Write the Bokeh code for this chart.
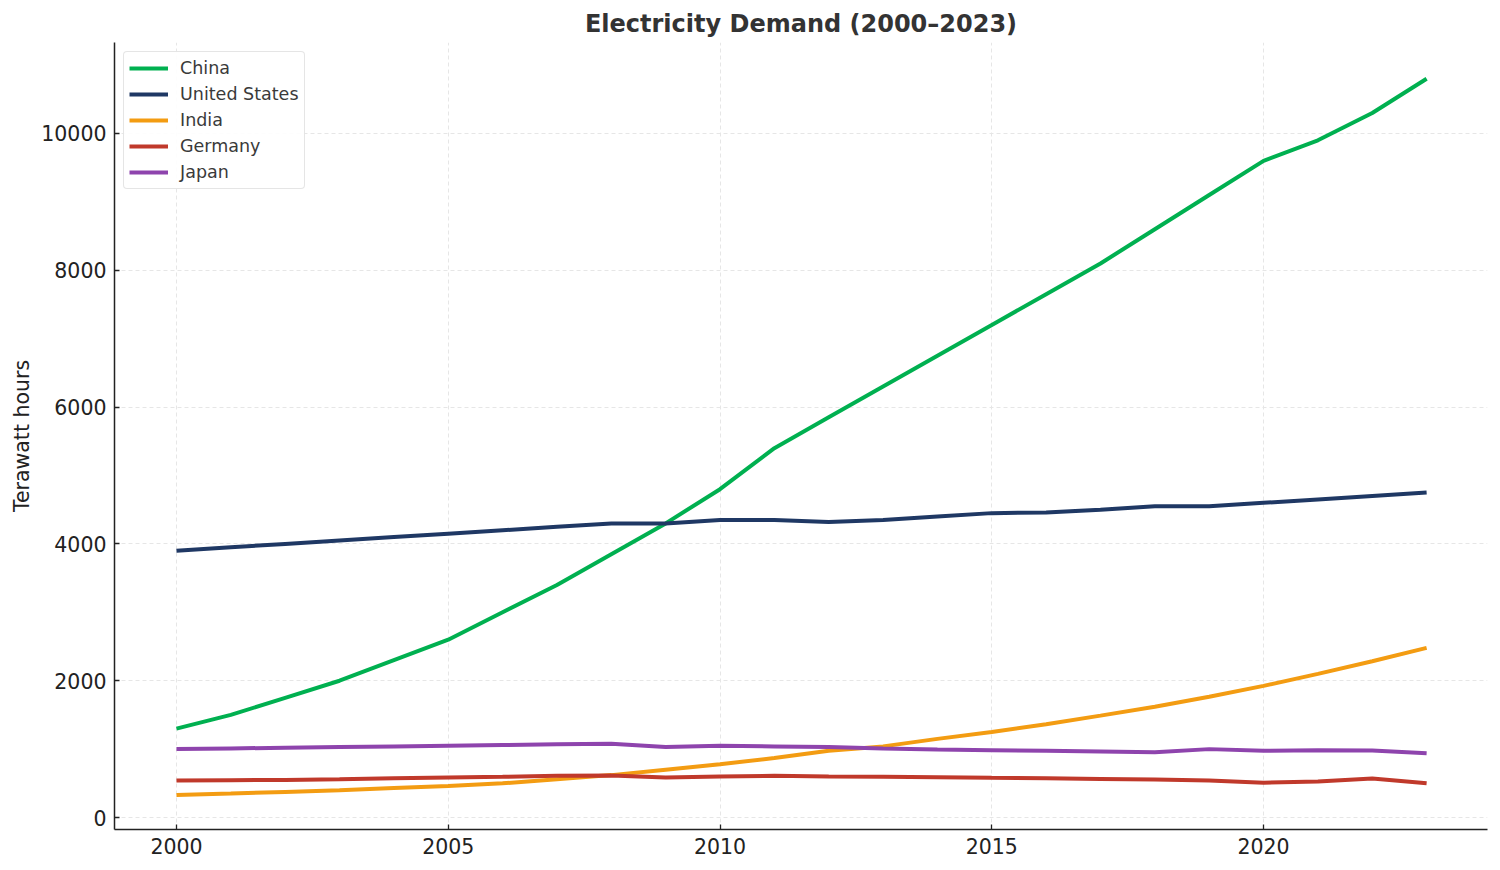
from bokeh.plotting import figure
from bokeh.models import FixedTicker, Range1d, Legend, LegendItem
from bokeh.embed import file_html
from bokeh.resources import INLINE

years = list(range(2000, 2024))
china = [1300, 1500, 1750, 2000, 2300, 2600, 3000, 3400, 3850, 4300, 4800, 5400,
         5850, 6300, 6750, 7200, 7650, 8100, 8600, 9100, 9600, 9900, 10300, 10800]
united_states = [3900, 3950, 4000, 4050, 4100, 4150, 4200, 4250, 4300, 4300, 4350, 4350,
                 4320, 4350, 4400, 4450, 4460, 4500, 4550, 4550, 4600, 4650, 4700, 4750]
india = [330, 350, 375, 400, 430, 460, 500, 560, 620, 700, 780, 870,
         975, 1040, 1150, 1250, 1365, 1490, 1620, 1765, 1925, 2100, 2285, 2480]
germany = [540, 545, 550, 560, 575, 585, 595, 610, 615, 585, 600, 610,
           600, 595, 590, 580, 575, 565, 555, 540, 510, 525, 570, 500]
japan = [1000, 1010, 1020, 1030, 1040, 1050, 1060, 1070, 1080, 1030, 1050, 1040,
         1030, 1010, 995, 985, 975, 965, 955, 1000, 975, 985, 980, 940]

series = [
    ("China", china, "#00b050"),
    ("United States", united_states, "#1f3864"),
    ("India", india, "#f39c12"),
    ("Germany", germany, "#c0392b"),
    ("Japan", japan, "#8e44ad"),
]

x_ticks = [2000, 2005, 2010, 2015, 2020]
y_ticks = [0, 2000, 4000, 6000, 8000, 10000]

FONT = "DejaVu Sans"

p = figure(width=1492, height=862, output_backend="svg", toolbar_location=None,
           x_range=Range1d(1998.86, 2024.12), y_range=Range1d(-175, 11330),
           min_border_left=114, min_border_right=5, min_border_top=42, min_border_bottom=33,
           title="Electricity Demand (2000\u20132023)")

p.title.align = "center"
p.title.text_font = FONT
p.title.text_font_size = "24px"
p.title.text_font_style = "bold"
p.title.text_color = "#333333"
p.title.standoff = 10

p.outline_line_color = None
p.background_fill_color = "white"
p.border_fill_color = "white"

for ax in (p.xaxis[0], p.yaxis[0]):
    ax.axis_line_color = "#222222"
    ax.axis_line_width = 1.5
    ax.major_tick_line_color = "#222222"
    ax.major_tick_line_width = 1.3
    ax.major_tick_out = 0
    ax.major_tick_in = 5
    ax.minor_tick_line_color = None
    ax.major_label_text_font = FONT
    ax.major_label_text_font_size = "20.5px"
    ax.major_label_text_color = "#222222"
    ax.major_label_standoff = 8

p.xaxis[0].ticker = FixedTicker(ticks=x_ticks)
p.yaxis[0].ticker = FixedTicker(ticks=y_ticks)
p.yaxis[0].axis_label = "Terawatt hours"
p.yaxis[0].axis_label_text_font = FONT
p.yaxis[0].axis_label_text_font_size = "20.5px"
p.yaxis[0].axis_label_text_font_style = "normal"
p.yaxis[0].axis_label_text_color = "#222222"
p.yaxis[0].axis_label_standoff = 4

p.grid.grid_line_color = "#e6e6e6"
p.grid.grid_line_dash = "4 3"
p.grid.grid_line_width = 1
p.xgrid.ticker = FixedTicker(ticks=x_ticks)
p.ygrid.ticker = FixedTicker(ticks=y_ticks)

items = []
for name, vals, color in series:
    r = p.line(years, vals, line_color=color, line_width=4)
    items.append(LegendItem(label=name, renderers=[r]))

legend = Legend(items=items, location="top_left")
legend.label_text_font = FONT
legend.label_text_font_size = "17.5px"
legend.label_text_color = "#3a3a3a"
legend.glyph_width = 39
legend.glyph_height = 22
legend.label_height = 22
legend.spacing = 4
legend.label_standoff = 12
legend.padding = 5
legend.margin = 9
legend.border_line_color = "#cccccc"
legend.border_line_width = 1.2
legend.border_radius = 4
legend.background_fill_alpha = 0.9
p.add_layout(legend)

open("out.html", "w").write(file_html(p, INLINE))
